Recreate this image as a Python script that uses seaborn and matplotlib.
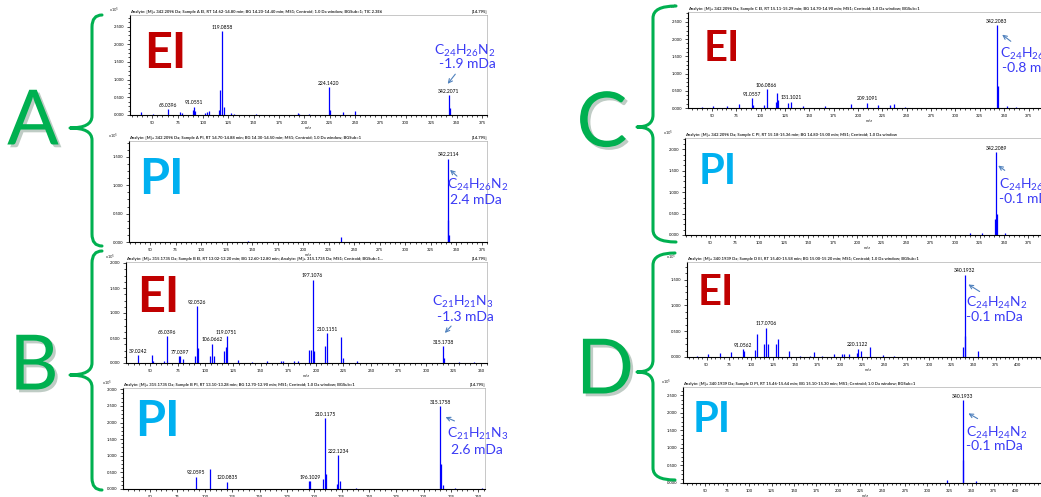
import numpy as np
import matplotlib
matplotlib.use("Agg")
import matplotlib.pyplot as plt
import matplotlib.patheffects as pe
from matplotlib.path import Path
from matplotlib.patches import PathPatch
from matplotlib.ticker import MultipleLocator
import seaborn as sns

# ---------------------------------------------------------------------------
# Spectra (m/z, relative intensity in y-tick units)
# ---------------------------------------------------------------------------
a_ei_mz = [39.2, 50.6, 65.0396, 77.0, 79.6, 89.9, 91.0551, 92.3, 101.6, 103.9,
           105.5, 115.6, 116.9, 119.0858, 120.4, 128.0, 131.0, 152.5, 193.5,
           195.0, 204.3, 224.1420, 225.5, 237.8, 250.0, 342.2071, 343.5]
a_ei_int = [0.15, 0.08, 0.32, 0.15, 0.10, 0.30, 0.47, 0.20, 0.10, 0.18,
            0.25, 0.30, 1.42, 4.72, 0.47, 0.10, 0.08, 0.08, 0.10,
            0.06, 0.08, 1.57, 0.30, 0.15, 0.20, 1.13, 0.38]
a_ei_tags = ["65.0396", "91.0551", "119.0858", "224.1420", "342.2071"]

a_pi_mz = [146.4, 236.9, 341.8, 342.2114, 343.2]
a_pi_int = [0.05, 0.18, 0.79, 2.94, 0.24]
a_pi_tags = ["342.2114"]

b_ei_mz = [39.0242, 51.2, 52.6, 62.4, 65.0396, 76.3, 77.0397, 79.9, 90.8,
           92.0526, 93.5, 104.2, 106.0662, 107.8, 117.2, 118.4, 119.0751,
           129.9, 142.1, 155.7, 168.5, 170.3, 180.5, 183.5, 194.2, 195.7,
           197.1076, 198.1, 208.7, 210.1151, 223.0, 224.5, 237.5, 315.1738,
           316.3, 330.0, 343.0]
b_ei_int = [0.31, 0.31, 0.10, 0.10, 1.07, 0.27, 0.27, 0.15, 0.30,
            2.27, 0.60, 0.30, 0.77, 0.30, 0.50, 0.65, 1.07,
            0.13, 0.06, 0.08, 0.10, 0.10, 0.08, 0.10, 0.53, 0.53,
            3.33, 0.50, 0.67, 1.20, 1.04, 0.20, 0.07, 0.67,
            0.20, 0.05, 0.05]
b_ei_tags = ["39.0242", "65.0396", "77.0397", "92.0526", "106.0662",
             "119.0751", "197.1076", "210.1151", "315.1738"]

b_pi_mz = [92.0595, 105.07, 120.0835, 195.6, 196.1029, 207.9, 210.1175, 210.9,
           221.2, 222.1234, 223.7, 238.0, 315.1758, 316.0, 317.2, 328.8, 353.0]
b_pi_int = [0.74, 1.18, 0.44, 0.48, 0.48, 0.60, 4.28, 0.88,
            0.28, 2.04, 0.48, 0.04, 5.00, 1.48, 0.24, 0.04, 0.04]
b_pi_tags = ["92.0595", "120.0835", "196.1029", "210.1175", "222.1234", "315.1758"]

c_ei_mz = [39.6, 51.5, 65.3, 78.0, 91.0557, 92.0, 103.6, 106.0866, 115.3, 116.7,
           118.3, 128.6, 131.1021, 144.0, 166.3, 192.7, 209.1091, 220.1, 232.4,
           236.5, 248.6, 342.2083, 343.4, 352.4, 361.6]
c_ei_int = [0.06, 0.10, 0.10, 0.23, 0.58, 0.20, 0.20, 1.10, 0.33, 0.90,
            0.44, 0.27, 0.37, 0.10, 0.10, 0.23, 0.30, 0.20, 0.20,
            0.23, 0.06, 4.81, 1.29, 0.10, 0.06]
c_ei_tags = ["91.0557", "106.0866", "131.1021", "209.1091", "342.2083"]

c_pi_mz = [315.5, 327.5, 340.6, 342.2089, 343.2, 351.5]
c_pi_int = [0.08, 0.08, 0.73, 3.88, 0.97, 0.08]
c_pi_tags = ["342.2089"]

d_ei_mz = [39.3, 51.6, 64.7, 77.5, 91.0562, 92.5, 104.0, 106.7, 115.0, 117.0706,
           119.1, 128.1, 130.0, 142.7, 154.7, 166.7, 170.4, 179.9, 192.9, 202.4,
           204.9, 209.8, 219.2, 220.1122, 223.7, 234.2, 248.5, 260.4, 338.5,
           340.1932, 341.0, 354.9]
d_ei_int = [0.05, 0.12, 0.15, 0.19, 0.31, 0.22, 0.28, 0.90, 0.51, 1.14,
            0.50, 0.51, 0.71, 0.24, 0.05, 0.05, 0.19, 0.05, 0.12, 0.12,
            0.12, 0.12, 0.15, 0.32, 0.22, 0.37, 0.06, 0.05, 0.37,
            3.19, 0.82, 0.24]
d_ei_tags = ["91.0562", "117.0706", "220.1122", "340.1932"]

d_pi_mz = [322.9, 340.1933, 340.9, 355.2]
d_pi_int = [0.15, 4.71, 1.29, 0.10]
d_pi_tags = ["340.1933"]

group_letters = ["A", "B", "C", "D"]
formulas = [r"$\mathregular{C_{24}H_{26}N_{2}}$", r"$\mathregular{C_{21}H_{21}N_{3}}$",
            r"$\mathregular{C_{24}H_{26}N_{2}}$", r"$\mathregular{C_{24}H_{24}N_{2}}$"]
errors = [["-1.9 mDa", "2.4 mDa"], ["-1.3 mDa", "2.6 mDa"],
          ["-0.8 mDa", "-0.1 mDa"], ["-0.1 mDa", "-0.1 mDa"]]

# ---------------------------------------------------------------------------
# Style
# ---------------------------------------------------------------------------
W, H = 1041, 497
GREEN = "#00B050"
EI_RED = "#C00000"
PI_BLUE = "#00B0F0"
PEAK = "#0000FF"
NOTE = "#3A3AF5"
ARROW = "#4F81BD"

sns.set_theme(style="white")
plt.rcParams["font.family"] = ["Lato", "DejaVu Sans"]
plt.rcParams["mathtext.fontset"] = "custom"
plt.rcParams["mathtext.rm"] = "Lato"

fig = plt.figure(figsize=(W / 100, H / 100), dpi=100)
fig.patch.set_facecolor("white")


def px_rect(x0, y0, x1, y1):
    return [x0 / W, 1 - y1 / H, (x1 - x0) / W, (y1 - y0) / H]


def spectrum(box, mz, inten, tags, xlim, ytop, title):
    x0, y0, x1, y1 = box
    ax = fig.add_axes(px_rect(*box))
    ax.set_facecolor("white")
    ax.vlines(mz, 0, inten, color=PEAK, lw=0.9)
    mz_arr = np.array(mz)
    for t in tags:
        i = int(np.argmin(np.abs(mz_arr - float(t))))
        ax.annotate(t, (mz[i], inten[i]), xytext=(0, 1), textcoords="offset points",
                    ha="center", va="bottom", fontsize=3.6, color="black")
    ax.set_xlim(*xlim)
    ax.set_ylim(0, ytop)
    # only label ticks that stay inside the picture
    x_seen = xlim[0] + (min(x1, W - 8) - x0) / (x1 - x0) * (xlim[1] - xlim[0])
    ax.set_xticks(np.arange(50, x_seen, 25))
    ax.xaxis.set_minor_locator(MultipleLocator(5))
    ax.set_yticks(np.arange(0, int(ytop) + 1))
    ax.yaxis.set_minor_locator(MultipleLocator(0.25))
    ax.set_yticklabels([f"{k * 0.5:.3f}" for k in range(int(ytop) + 1)])
    ax.tick_params(which="both", direction="out", labelsize=3, width=0.5,
                   colors="black", pad=1.5)
    ax.tick_params(which="major", length=2.5)
    ax.tick_params(which="minor", length=1.3)
    ax.tick_params(axis="both", which="both", bottom=True, left=True)
    for side in ("left", "bottom"):
        ax.spines[side].set_color("black")
        ax.spines[side].set_linewidth(0.8)
    for side in ("top", "right"):
        ax.spines[side].set_color("#B0B0B0")
        ax.spines[side].set_linewidth(0.5)
    if y1 < H - 12:
        ax.set_xlabel("m/z", fontsize=3, labelpad=1)
    ax.text(0, 1.012, title, transform=ax.transAxes, fontsize=3.0,
            fontweight="bold", ha="left", va="bottom")
    if x1 < W:
        ax.text(1, 1.012, "[14.795]", transform=ax.transAxes, fontsize=3.0,
                fontweight="bold", ha="right", va="bottom")
    ax.text(-0.045, 1.0, r"x10$^{5}$", transform=ax.transAxes, fontsize=3,
            ha="center", va="bottom")
    return ax


panels = [
    # box (x0, y0, x1, y1) in pixels, data, xlim, ytop
    ((130, 15, 487, 115), a_ei_mz, a_ei_int, a_ei_tags, (28, 380), 5.65),
    ((129, 141, 487, 242), a_pi_mz, a_pi_int, a_pi_tags, (29.4, 380), 3.56),
    ((126, 262, 487, 363), b_ei_mz, b_ei_int, b_ei_tags, (28, 355), 4.04),
    ((123, 388, 485, 489), b_pi_mz, b_pi_int, b_pi_tags, (25.3, 356), 6.08),
    ((688, 12, 1050, 108), c_ei_mz, c_ei_int, c_ei_tags, (25.5, 397), 5.58),
    ((685, 138, 1050, 235), c_pi_mz, c_pi_int, c_pi_tags, (24, 397), 4.53),
    ((687, 262, 1049, 357), d_ei_mz, d_ei_int, d_ei_tags, (28, 435), 3.68),
    ((683, 387, 1048, 483), d_pi_mz, d_pi_int, d_pi_tags, (25.4, 436), 5.47),
]
titles = [
    "Analyte: [M]+ 342.2096 Da; Sample A EI, RT 14.62-14.80 min; BG 14.20-14.40 min; MS1; Centroid; 1.0 Da window; BGSub=1; TIC 2.3E6",
    "Analyte: [M]+ 342.2096 Da; Sample A PI, RT 14.70-14.88 min; BG 14.30-14.50 min; MS1; Centroid; 1.0 Da window; BGSub=1",
    "Analyte: [M]+ 315.1735 Da; Sample B EI, RT 13.02-13.20 min; BG 12.60-12.80 min; Analyte: [M]+ 315.1735 Da; MS1; Centroid; BGSub=1...",
    "Analyte: [M]+ 315.1735 Da; Sample B PI, RT 13.10-13.28 min; BG 12.70-12.90 min; MS1; Centroid; 1.0 Da window; BGSub=1",
    "Analyte: [M]+ 342.2096 Da; Sample C EI, RT 15.11-15.29 min; BG 14.70-14.90 min; MS1; Centroid; 1.0 Da window; BGSub=1",
    "Analyte: [M]+ 342.2096 Da; Sample C PI, RT 15.18-15.36 min; BG 14.80-15.00 min; MS1; Centroid; 1.0 Da window",
    "Analyte: [M]+ 340.1939 Da; Sample D EI, RT 15.40-15.58 min; BG 15.00-15.20 min; MS1; Centroid; 1.0 Da window; BGSub=1",
    "Analyte: [M]+ 340.1939 Da; Sample D PI, RT 15.46-15.64 min; BG 15.10-15.30 min; MS1; Centroid; 1.0 Da window; BGSub=1",
]
for (box, mz, inten, tags, xlim, ytop), title in zip(panels, titles):
    spectrum(box, mz, inten, tags, xlim, ytop, title)

# ---------------------------------------------------------------------------
# Overlay in pixel coordinates: braces, group letters, EI/PI, formula notes
# ---------------------------------------------------------------------------
ov = fig.add_axes([0, 0, 1, 1])
ov.set_xlim(0, W)
ov.set_ylim(H, 0)
ov.axis("off")
ov.patch.set_alpha(0)


def brace(x_tip, x_spine, x_end, y_top, y_mid, y_bot, r=12):
    verts = [(x_end, y_top), (x_spine, y_top), (x_spine, y_top + r),
             (x_spine, y_mid - r),
             (x_spine, y_mid), (x_tip, y_mid),
             (x_spine, y_mid), (x_spine, y_mid + r),
             (x_spine, y_bot - r),
             (x_spine, y_bot), (x_end, y_bot)]
    codes = [Path.MOVETO, Path.CURVE3, Path.CURVE3, Path.LINETO,
             Path.CURVE3, Path.CURVE3, Path.CURVE3, Path.CURVE3,
             Path.LINETO, Path.CURVE3, Path.CURVE3]
    ov.add_patch(PathPatch(Path(verts, codes), fill=False, edgecolor=GREEN,
                           lw=2.2, capstyle="round", joinstyle="round"))


brace_geo = [(70, 92, 102, 15, 128, 246), (70, 92, 102, 251, 375, 490),
             (637, 653, 676, 6, 127, 242), (637, 653, 675, 253, 372, 480)]
letter_pos = [(33, 123), (34, 368), (602, 125), (605, 372)]
shadow = [pe.SimplePatchShadow(offset=(2, -2), alpha=0.25), pe.Normal()]
for geo, (lx, ly), letter in zip(brace_geo, letter_pos, group_letters):
    brace(*geo)
    ov.text(lx, ly, letter, color=GREEN, fontsize=55, ha="center", va="center",
            path_effects=shadow)

mode_pos = [(165, 53, "EI"), (161, 179, "PI"), (158, 297, "EI"), (157, 421, "PI"),
            (722, 49, "EI"), (718, 172, "PI"), (716, 293, "EI"), (712, 420, "PI")]
for x, y, mode in mode_pos:
    big = 35 if x < 500 else 30
    ov.text(x, y, mode, color=EI_RED if mode == "EI" else PI_BLUE, fontsize=big,
            fontweight="bold", ha="center", va="center")

# (formula x, y, error x, y, alignment, arrow tail, arrow head)
notes = [
    (465, 51, 467, 64, "center", (457, 72), (446, 86)),
    (447, 185, 450, 200, "left", (459, 178), (448, 168)),
    (463, 302, 465, 317, "center", (453, 324), (443, 335)),
    (447, 434, 451, 450, "left", (457, 422), (443, 416)),
    (1000, 54, 1002, 68, "left", (1013, 43), (1000, 33)),
    (999, 185, 999, 199, "left", (1007, 172), (996, 164)),
    (966, 303, 966, 317, "left", (982, 293), (966, 283)),
    (966, 433, 966, 446, "left", (980, 420), (966, 412)),
]
for k, (fx, fy, ex, ey, ha, tail, head) in enumerate(notes):
    g, mode = divmod(k, 2)
    ov.text(fx, fy, formulas[g], color=NOTE, fontsize=10, ha=ha, va="center")
    ov.text(ex, ey, errors[g][mode], color=NOTE, fontsize=10, ha=ha, va="center")
    ov.annotate("", xy=head, xytext=tail,
                arrowprops=dict(arrowstyle="->", color=ARROW, lw=0.8,
                                mutation_scale=7))

fig.savefig("out.png", dpi=100, facecolor="white")
